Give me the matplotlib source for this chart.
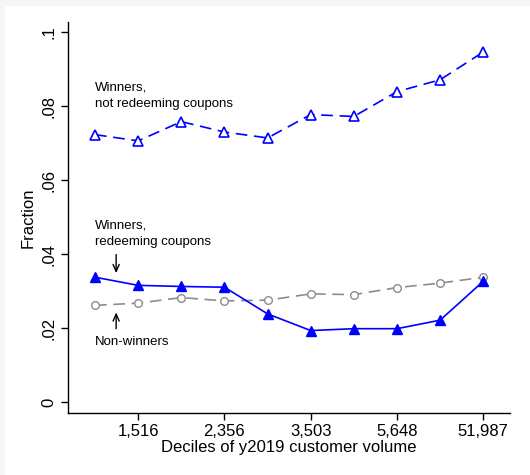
import matplotlib
matplotlib.use("Agg")
import matplotlib.pyplot as plt
from matplotlib.patches import Rectangle

# deciles of y2019 customer volume
deciles = [1, 2, 3, 4, 5, 6, 7, 8, 9, 10]
tick_pos = [2, 4, 6, 8, 10]
tick_labels = ["1,516", "2,356", "3,503", "5,648", "51,987"]

winners_not_redeeming = [0.0723, 0.0706, 0.0758, 0.0730, 0.0714,
                         0.0777, 0.0772, 0.0839, 0.0871, 0.0946]
winners_redeeming = [0.0338, 0.0316, 0.0313, 0.0311, 0.0239,
                     0.0194, 0.0199, 0.0199, 0.0222, 0.0327]
non_winners = [0.0262, 0.0268, 0.0283, 0.0274, 0.0276,
               0.0293, 0.0291, 0.0310, 0.0322, 0.0338]

yticks = [0, 0.02, 0.04, 0.06, 0.08, 0.1]
ytick_labels = ["0", ".02", ".04", ".06", ".08", ".1"]

plt.rcParams["font.family"] = ["Liberation Sans", "DejaVu Sans"]

W, H = 530, 475
fig = plt.figure(figsize=(W / 100, H / 100), dpi=100, facecolor="#f4f6f8")
fig.add_artist(Rectangle((5 / W, 0), 1, 1 - 6 / H, transform=fig.transFigure,
                         facecolor="white", edgecolor="none", zorder=-10))

ax = fig.add_axes([67.7 / W, 1 - 412.7 / H, (510 - 67.7) / W, (412.7 - 22) / H])
ax.set_facecolor("white")

ax.plot(deciles, winners_not_redeeming, color="#0000ff", lw=1.2,
        dashes=(7, 4), marker="^", ms=6.5, mfc="white", mec="#0000ff", mew=1.2)
ax.plot(deciles, non_winners, color="#8c8c8c", lw=1.2,
        dashes=(7, 4), marker="o", ms=5.5, mfc="white", mec="#8c8c8c", mew=1.0)
ax.plot(deciles, winners_redeeming, color="#0000ff", lw=1.2,
        marker="^", ms=7, mfc="#0000ff", mec="#0000ff")

ax.text(1, 0.0828, "Winners,\nnot redeeming coupons", fontsize=9.5,
        ha="left", va="center", linespacing=1.55)
ax.text(1, 0.0455, "Winners,\nredeeming coupons", fontsize=9.5,
        ha="left", va="center", linespacing=1.55)
ax.text(1, 0.0162, "Non-winners", fontsize=9.5, ha="left", va="center")
arrow = dict(arrowstyle="->,head_length=0.5,head_width=0.22", color="black",
             lw=1, shrinkA=0, shrinkB=0)
ax.annotate("", xy=(1.49, 0.0349), xytext=(1.49, 0.0399), arrowprops=arrow)
ax.annotate("", xy=(1.49, 0.0243), xytext=(1.49, 0.0199), arrowprops=arrow)

ax.set_xlim(0.367, 10.62)
ax.set_ylim(-0.00278, 0.1027)
ax.set_xticks(tick_pos)
ax.set_xticklabels(tick_labels, fontsize=12)
ax.set_yticks(yticks)
ax.set_yticklabels(ytick_labels, fontsize=12, rotation=90, va="center")
ax.tick_params(length=5, width=1, pad=3)

for s in ["top", "right"]:
    ax.spines[s].set_visible(False)
for s in ["left", "bottom"]:
    ax.spines[s].set_linewidth(1)

ax.set_xlabel("Deciles of y2019 customer volume", fontsize=12, labelpad=1)
ax.set_ylabel("Fraction", fontsize=12, labelpad=4)

fig.savefig("out.png", dpi=100, facecolor=fig.get_facecolor())
